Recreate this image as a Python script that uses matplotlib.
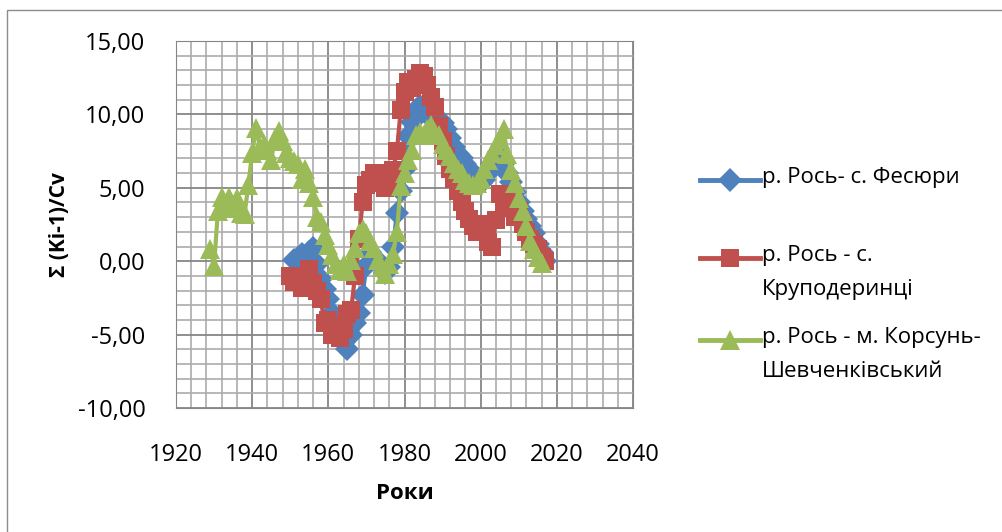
import matplotlib
matplotlib.use("Agg")
from matplotlib import pyplot as plt
from matplotlib.lines import Line2D
from matplotlib.patches import Rectangle
from matplotlib.ticker import MultipleLocator, FuncFormatter

plt.rcParams['font.family'] = ['Open Sans', 'DejaVu Sans']

# р. Рось - с. Фесюри
roky_fes = list(range(1951, 2018))
fes = [0.1, 0.2, 0.5, 0.3, 0.6, 0.9, -0.2, -1.2, -1.9, -2.6,
       -3.5, -4.3, -5.0, -5.5, -6.0, -5.0, -4.2, -3.5, -2.3, -0.3,
       0.6, 0.2, 0.0, -0.3, -0.8, -0.4, 1.0, 3.3, 4.8, 6.3,
       8.5, 9.5, 10.3, 10.6, 10.2, 10.0, 10.3, 9.8, 9.6, 9.4,
       9.0, 8.4, 7.8, 7.3, 7.0, 6.6, 6.2, 6.0, 5.6, 5.3,
       5.5, 6.0, 6.6, 7.0, 7.2, 6.7, 6.0, 5.4, 4.7, 4.0,
       3.4, 2.9, 2.4, 1.9, 1.2, 0.6, 0.0]

# р. Рось - с. Круподеринці
roky_krup = list(range(1950, 2018))
krup = [-1.0, -1.4, -1.1, -1.8, -1.2, -0.5, -1.5, -2.0, -2.6, -4.2,
        -4.0, -5.0, -4.4, -5.2, -4.6, -3.6, -3.3, -1.0, 1.5, 4.0,
        5.2, 5.5, 6.0, 5.3, 6.0, 5.0, 5.5, 6.2, 7.5, 10.3,
        11.5, 12.2, 11.8, 12.4, 12.8, 12.6, 12.0, 11.2, 10.5, 9.2,
        8.2, 7.2, 6.3, 5.6, 4.8, 4.0, 3.4, 2.9, 2.4, 2.0,
        2.5, 2.0, 1.3, 1.0, 2.8, 4.6, 3.8, 4.2, 3.6, 3.0,
        3.4, 2.5, 2.0, 1.5, 1.2, 0.8, 0.3, 0.0]

# р. Рось - м. Корсунь-Шевченківський
roky_kors = list(range(1929, 2017))
kors = [0.8, -0.3, 3.4, 4.4, 3.6, 4.4, 3.8, 4.3, 3.3, 3.2,
        5.2, 7.4, 9.1, 7.8, 8.0, 7.6, 6.9, 8.4, 8.9, 8.2,
        7.4, 7.0, 6.8, 6.6, 5.6, 6.3, 5.3, 4.4, 3.0, 2.7,
        1.8, 1.1, 0.4, -0.2, -0.6, -0.2, -0.7, 0.1, 0.9, 1.9,
        2.2, 1.9, 1.4, 0.9, 0.1, -0.4, -0.9, -0.2, 0.5, 2.0,
        5.1, 6.0, 6.9, 7.6, 8.6, 8.8, 8.6, 9.0, 9.3, 8.7,
        8.6, 8.0, 7.6, 7.2, 6.7, 6.3, 6.0, 5.5, 5.3, 5.2,
        5.3, 5.6, 6.3, 6.9, 7.4, 7.9, 8.3, 9.0, 7.3, 6.2,
        5.3, 4.3, 3.4, 2.4, 1.4, 0.8, 0.3, -0.1]

nazvy = ["р. Рось- с. Фесюри",
         "р. Рось - с.\nКруподеринці",
         "р. Рось - м. Корсунь-\nШевченківський"]
kolory = ['#4F81BD', '#C0504D', '#9BBB59']
markery = ['D', 's', '^']
rozmiry = [12, 13, 14]

W, H = 1003, 532
fig = plt.figure(figsize=(W / 100, H / 100), dpi=100)
ax = fig.add_axes([176 / W, 1 - 408 / H, 457 / W, 367 / H])

serii = [(roky_fes, fes), (roky_krup, krup), (roky_kors, kors)]
for (x, y), c, m, s in zip(serii, kolory, markery, rozmiry):
    ax.plot(x, y, color=c, marker=m, markersize=s, linewidth=3,
            markeredgewidth=0, zorder=3)

ax.set_xlim(1920, 2040)
ax.set_ylim(-10, 15)
ax.xaxis.set_major_locator(MultipleLocator(20))
ax.xaxis.set_minor_locator(MultipleLocator(4))
ax.yaxis.set_major_locator(MultipleLocator(5))
ax.yaxis.set_minor_locator(MultipleLocator(1))
ax.yaxis.set_major_formatter(FuncFormatter(lambda v, p: f"{v:.2f}".replace('.', ',')))
ax.grid(which='major', color='#868686', linewidth=1.3)
ax.grid(which='minor', color='#ababab', linewidth=1.2)
ax.set_axisbelow(True)
ax.tick_params(which='both', length=0)
ax.tick_params(axis='x', labelsize=17, pad=25)
ax.tick_params(axis='y', labelsize=17, pad=22)
for sp in ax.spines.values():
    sp.set_color('#868686')

ax.set_xlabel("Роки", fontsize=16, fontweight='bold', labelpad=12)
fig.text(60 / W, 1 - 225 / H, "Σ (Ki-1)/Cv", rotation=90, fontsize=15,
         fontweight='bold', ha='center', va='center')

# легенда
leg_y = [180, 258, 340]
for ly, nazva, c, m, s in zip(leg_y, nazvy, kolory, markery, rozmiry):
    yy = 1 - ly / H
    fig.add_artist(Line2D([700 / W, 760 / W], [yy, yy], color=c, linewidth=3.5))
    fig.add_artist(Line2D([730 / W], [yy], color=c, marker=m, markersize=s,
                          markeredgewidth=0))
    fig.text(762 / W, yy + 13 / H, nazva, fontsize=16, ha='left', va='top',
             linespacing=1.8)

fig.add_artist(Rectangle((7 / W, -0.05), 1.1, 1 - 10 / H + 0.05,
                         transform=fig.transFigure, fill=False,
                         edgecolor='#8c8c8c', linewidth=1))

fig.savefig("out.png", dpi=100)
